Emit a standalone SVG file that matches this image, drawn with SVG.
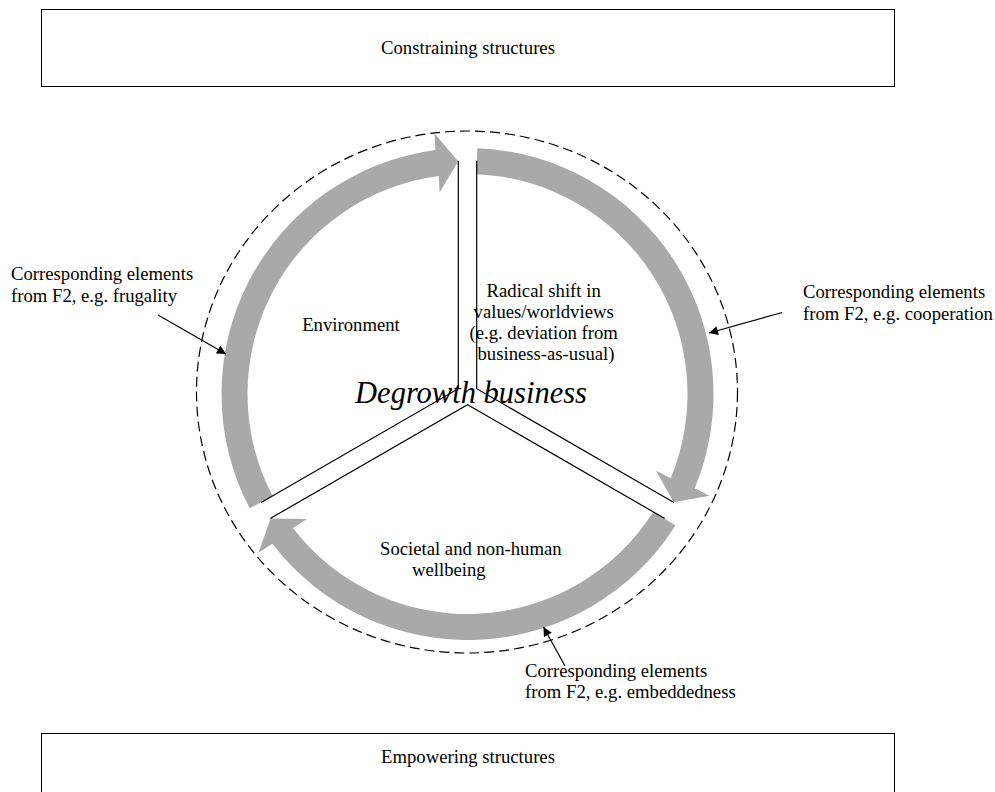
<svg xmlns="http://www.w3.org/2000/svg" width="995" height="792" viewBox="0 0 995 792">
<style>
.t{font-family:"Liberation Serif","Times New Roman",serif;font-size:18.7px;fill:#000}
.box{fill:#fff;stroke:#000;stroke-width:1}
.ring{fill:#a9a9a9;stroke:none}
.div{fill:none;stroke:#000;stroke-width:1.2}
.ann{fill:none;stroke:#000;stroke-width:1.2}
</style>
<defs>
<marker id="ah" viewBox="0 0 10 10" refX="10" refY="5" markerWidth="10" markerHeight="9" markerUnits="userSpaceOnUse" orient="auto">
<path d="M0,0 L10,5 L0,10 Z" fill="#000"/>
</marker>
<path id="arc" d="M249.69,508.35 A246,246 0 0,1 435.39,150.11 L434.56,133.61 L458.15,161.19 L439.62,192.39 L438.78,175.88 A220,220 0 0,0 272.71,496.26 Z"/>
</defs>
<rect width="995" height="792" fill="#fff"/>
<g id="constraining">
<rect class="box" x="41.5" y="9.5" width="853" height="77"/>
<text class="t" x="468" y="54" text-anchor="middle">Constraining structures</text>
</g>
<g id="empowering">
<rect class="box" x="41.5" y="733.5" width="853" height="70"/>
<text class="t" x="468" y="763" text-anchor="middle">Empowering structures</text>
</g>
<g id="boundary">
<ellipse cx="467" cy="392" rx="270.5" ry="261" fill="none" stroke="#000" stroke-width="1.2" stroke-dasharray="10,5"/>
</g>
<g id="cycle">
<use href="#arc" class="ring"/>
<use href="#arc" class="ring" transform="rotate(120 467.5 394)"/>
<use href="#arc" class="ring" transform="rotate(240 467.5 394)"/>
</g>
<g id="degrowth">
<text x="471" y="403" text-anchor="middle" style="font-family:'Liberation Serif','Times New Roman',serif;font-style:italic;font-size:30.5px">Degrowth business</text>
</g>
<g id="dividers">
<polyline class="div" points="458.3,161 458.3,388.69 261.12,502.53"/>
<polyline class="div" points="476.7,161 476.7,388.69 673.88,502.53"/>
<polyline class="div" points="270.32,518.47 467.5,404.62 664.68,518.47"/>
</g>
<g id="environment">
<text class="t" x="351" y="331" text-anchor="middle">Environment</text>
</g>
<g id="radical-shift">
<text class="t" text-anchor="middle">
<tspan x="546" y="297">Radical shift in</tspan>
<tspan x="546" y="318">values/worldviews</tspan>
<tspan x="546" y="339">(e.g. deviation from</tspan>
<tspan x="546" y="360">business-as-usual)</tspan>
</text>
</g>
<g id="wellbeing">
<text class="t">
<tspan x="380" y="555">Societal and non-human</tspan>
<tspan x="412" y="576">wellbeing</tspan>
</text>
</g>
<g id="label-frugality">
<text class="t">
<tspan x="11" y="280">Corresponding elements</tspan>
<tspan x="11" y="301.5">from F2, e.g. frugality</tspan>
</text>
</g>
<g id="label-cooperation">
<text class="t">
<tspan x="803" y="298">Corresponding elements</tspan>
<tspan x="803" y="320">from F2, e.g. cooperation</tspan>
</text>
</g>
<g id="label-embeddedness">
<text class="t">
<tspan x="525" y="677">Corresponding elements</tspan>
<tspan x="525" y="698">from F2, e.g. embeddedness</tspan>
</text>
</g>
<g id="connectors">
<line class="ann" x1="158" y1="315" x2="226" y2="354" marker-end="url(#ah)"/>
<line class="ann" x1="782" y1="312.5" x2="709" y2="333" marker-end="url(#ah)"/>
<line class="ann" x1="565" y1="666" x2="543.5" y2="627" marker-end="url(#ah)"/>
</g>
</svg>
